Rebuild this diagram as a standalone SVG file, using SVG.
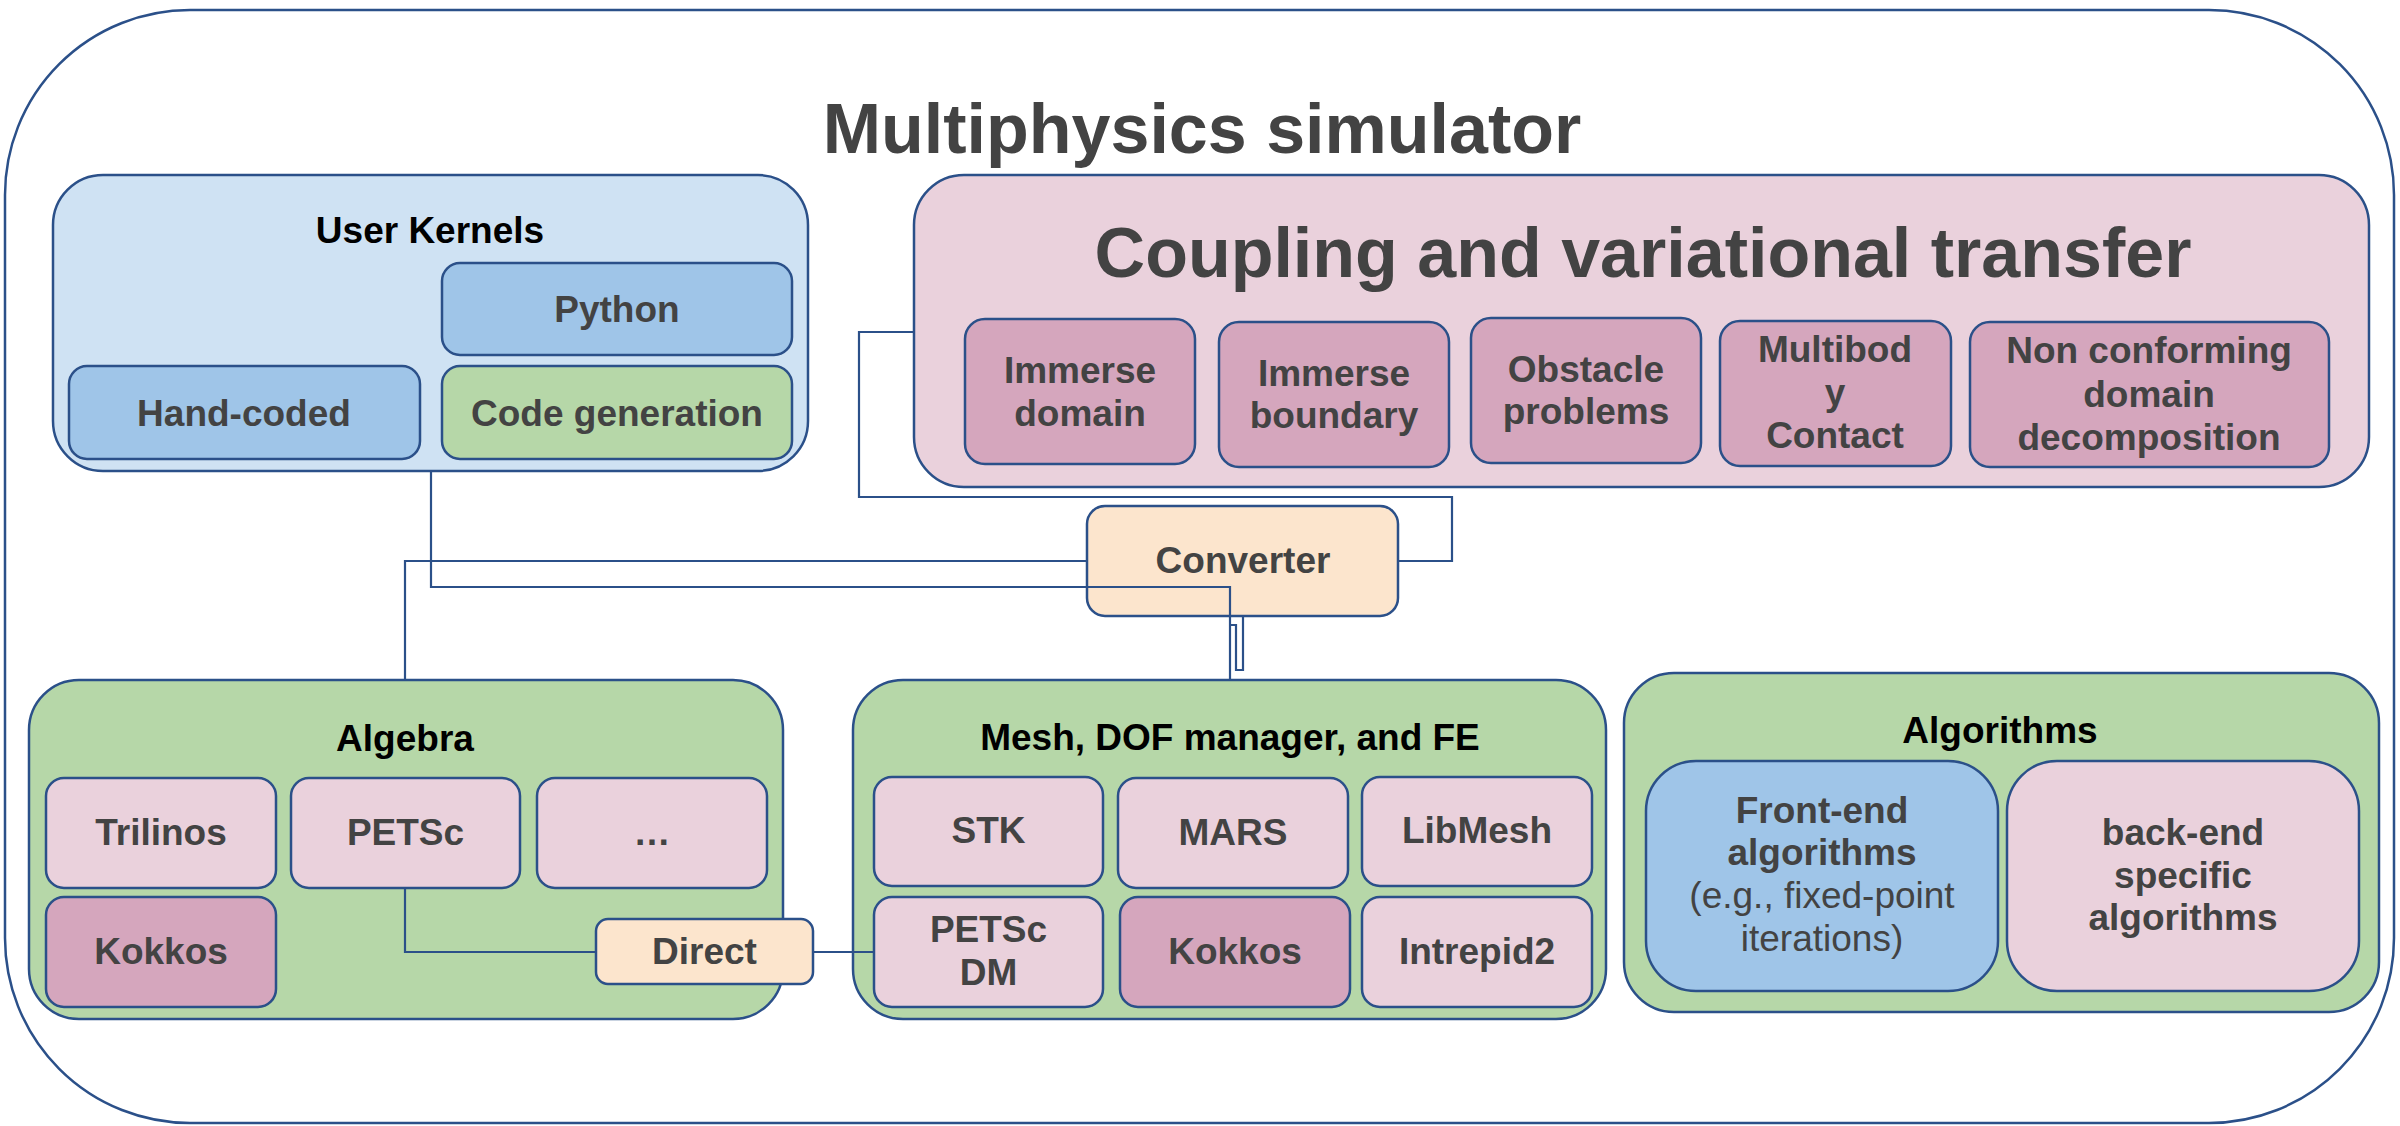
<svg xmlns="http://www.w3.org/2000/svg" width="2400" height="1126" viewBox="0 0 2400 1126">
<style>
  .box { stroke: #2b5089; stroke-width: 2.5; }
  .lb { fill: #cfe2f3; }
  .bl { fill: #9fc5e8; }
  .gr { fill: #b6d7a8; }
  .pk { fill: #ead1dc; }
  .mg { fill: #d5a6bd; }
  .or { fill: #fce5cd; }
  text { font-family: "Liberation Sans", Arial, sans-serif; font-weight: bold; text-anchor: middle; font-size: 37px; fill: #434343; }
  .hd { fill: #000000; }
  .big { font-size: 70px; }
  .reg { font-weight: normal; }
  .conn { fill: none; stroke: #2b5089; stroke-width: 2.2; }
</style>
<rect x="0" y="0" width="2400" height="1126" fill="#ffffff"/>
<g id="outer">
  <rect class="box" x="5" y="10" width="2389" height="1113" rx="185" ry="185" fill="#ffffff"/>
  <text class="big" x="1202" y="153">Multiphysics simulator</text>
</g>
<g id="user-kernels">
  <rect class="box lb" x="53" y="175" width="755" height="296" rx="50"/>
  <text class="hd" x="430" y="243">User Kernels</text>
</g>
<g id="python">
  <rect class="box bl" x="442" y="263" width="350" height="92" rx="18"/>
  <text x="617" y="322">Python</text>
</g>
<g id="hand-coded">
  <rect class="box bl" x="69" y="366" width="351" height="93" rx="18"/>
  <text x="244" y="426">Hand-coded</text>
</g>
<g id="code-generation">
  <rect class="box gr" x="442" y="366" width="350" height="93" rx="18"/>
  <text x="617" y="426">Code generation</text>
</g>
<g id="coupling">
  <rect class="box pk" x="914" y="175" width="1455" height="312" rx="50"/>
  <text class="big" x="1643" y="277">Coupling and variational transfer</text>
</g>
<g id="immerse-domain">
  <rect class="box mg" x="965" y="319" width="230" height="145" rx="20"/>
  <text x="1080" y="383">Immerse</text>
  <text x="1080" y="426">domain</text>
</g>
<g id="immerse-boundary">
  <rect class="box mg" x="1219" y="322" width="230" height="145" rx="20"/>
  <text x="1334" y="386">Immerse</text>
  <text x="1334" y="428">boundary</text>
</g>
<g id="obstacle">
  <rect class="box mg" x="1471" y="318" width="230" height="145" rx="20"/>
  <text x="1586" y="382">Obstacle</text>
  <text x="1586" y="424">problems</text>
</g>
<g id="multibody">
  <rect class="box mg" x="1720" y="321" width="231" height="145" rx="20"/>
  <text x="1835" y="362">Multibod</text>
  <text x="1835" y="405">y</text>
  <text x="1835" y="448">Contact</text>
</g>
<g id="non-conforming">
  <rect class="box mg" x="1970" y="322" width="359" height="145" rx="20"/>
  <text x="2149" y="363">Non conforming</text>
  <text x="2149" y="407">domain</text>
  <text x="2149" y="450">decomposition</text>
</g>
<g id="converter">
  <rect class="box or" x="1087" y="506" width="311" height="110" rx="18"/>
  <text x="1243" y="573">Converter</text>
</g>
<g id="algebra">
  <rect class="box gr" x="29" y="680" width="754" height="339" rx="50"/>
  <text class="hd" x="405" y="751">Algebra</text>
</g>
<g id="trilinos">
  <rect class="box pk" x="46" y="778" width="230" height="110" rx="18"/>
  <text x="161" y="845">Trilinos</text>
</g>
<g id="petsc">
  <rect class="box pk" x="291" y="778" width="229" height="110" rx="18"/>
  <text x="405.5" y="845">PETSc</text>
</g>
<g id="ellipsis">
  <rect class="box pk" x="537" y="778" width="230" height="110" rx="18"/>
  <text x="652" y="845">…</text>
</g>
<g id="kokkos-algebra">
  <rect class="box mg" x="46" y="897" width="230" height="110" rx="18"/>
  <text x="161" y="964">Kokkos</text>
</g>
<g id="mesh">
  <rect class="box gr" x="853" y="680" width="753" height="339" rx="50"/>
  <text class="hd" x="1230" y="750">Mesh, DOF manager, and FE</text>
</g>
<g id="stk">
  <rect class="box pk" x="874" y="777" width="229" height="109" rx="18"/>
  <text x="988.5" y="843">STK</text>
</g>
<g id="mars">
  <rect class="box pk" x="1118" y="778" width="230" height="110" rx="18"/>
  <text x="1233" y="845">MARS</text>
</g>
<g id="libmesh">
  <rect class="box pk" x="1362" y="777" width="230" height="109" rx="18"/>
  <text x="1477" y="843">LibMesh</text>
</g>
<g id="petsc-dm">
  <rect class="box pk" x="874" y="897" width="229" height="110" rx="18"/>
  <text x="988.5" y="942">PETSc</text>
  <text x="988.5" y="985">DM</text>
</g>
<g id="kokkos-mesh">
  <rect class="box mg" x="1120" y="897" width="230" height="110" rx="18"/>
  <text x="1235" y="964">Kokkos</text>
</g>
<g id="intrepid2">
  <rect class="box pk" x="1362" y="897" width="230" height="110" rx="18"/>
  <text x="1477" y="964">Intrepid2</text>
</g>
<g id="direct">
  <rect class="box or" x="596" y="919" width="217" height="65" rx="12"/>
  <text x="704.5" y="964">Direct</text>
</g>
<g id="algorithms">
  <rect class="box gr" x="1624" y="673" width="755" height="339" rx="50"/>
  <text class="hd" x="2000" y="743">Algorithms</text>
</g>
<g id="front-end">
  <rect class="box bl" x="1646" y="761" width="352" height="230" rx="50"/>
  <text x="1822" y="823">Front-end</text>
  <text x="1822" y="865">algorithms</text>
  <text class="reg" x="1822" y="908">(e.g., fixed-point</text>
  <text class="reg" x="1822" y="951">iterations)</text>
</g>
<g id="back-end">
  <rect class="box pk" x="2007" y="761" width="352" height="230" rx="50"/>
  <text x="2183" y="845">back-end</text>
  <text x="2183" y="888">specific</text>
  <text x="2183" y="930">algorithms</text>
</g>
<g id="connectors">
  <path class="conn" d="M431,471 V587 H1230 V680"/>
  <path class="conn" d="M405,680 V561 H1087"/>
  <path class="conn" d="M1398,561 H1452 V497 H859 V332 H914"/>
  <path class="conn" d="M1230,625 H1236 V670 H1243 V616"/>
  <path class="conn" d="M405,888 V952 H596"/>
  <path class="conn" d="M813,952 H874"/>
</g>
</svg>
